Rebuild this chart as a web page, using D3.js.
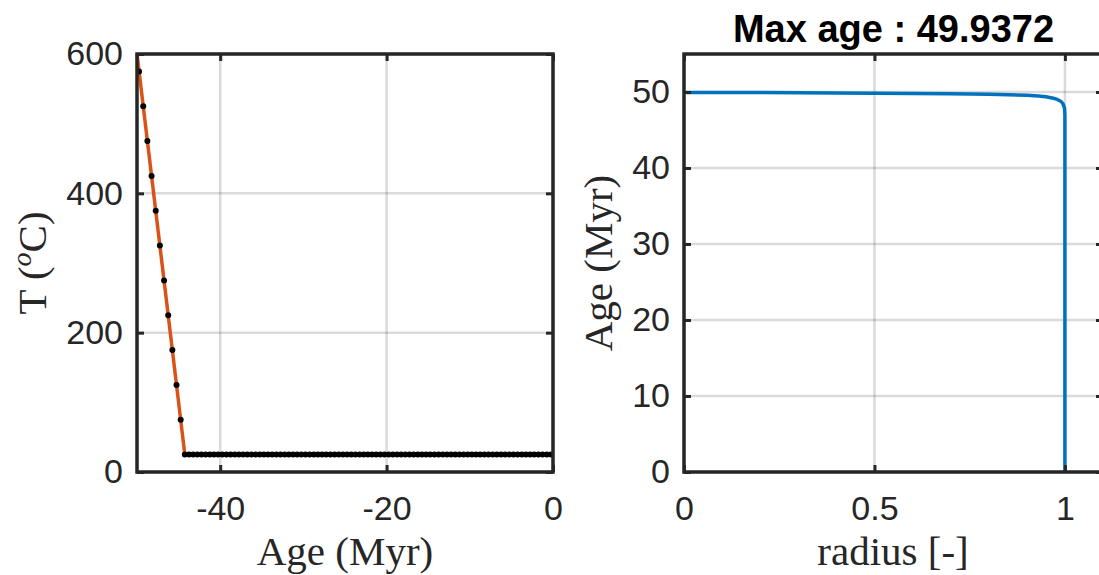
<!DOCTYPE html>
<html>
<head>
<meta charset="utf-8">
<script src="https://cdn.jsdelivr.net/npm/d3@7"></script>
<style>
  body { margin: 0; background: #fff; }
  .tick text { font-family: "Liberation Sans", Arial, sans-serif; font-size: 34px; fill: #262626; }
  .lbl { font-family: "Liberation Serif", serif; font-size: 41px; fill: #262626; }
  .ttl { font-family: "Liberation Sans", Arial, sans-serif; font-size: 38px; font-weight: bold; fill: #000; }
</style>
</head>
<body>
<svg id="fig" width="1099" height="575"></svg>
<script>
// thermal history samples (black dots)
var ageMyr = [-49.75, -49.25, -48.75, -48.25, -47.75, -47.25, -46.75, -46.25, -45.75, -45.25,
  -44.75, -44.25, -43.75, -43.25, -42.75, -42.25, -41.75, -41.25, -40.75, -40.25,
  -39.75, -39.25, -38.75, -38.25, -37.75, -37.25, -36.75, -36.25, -35.75, -35.25,
  -34.75, -34.25, -33.75, -33.25, -32.75, -32.25, -31.75, -31.25, -30.75, -30.25,
  -29.75, -29.25, -28.75, -28.25, -27.75, -27.25, -26.75, -26.25, -25.75, -25.25,
  -24.75, -24.25, -23.75, -23.25, -22.75, -22.25, -21.75, -21.25, -20.75, -20.25,
  -19.75, -19.25, -18.75, -18.25, -17.75, -17.25, -16.75, -16.25, -15.75, -15.25,
  -14.75, -14.25, -13.75, -13.25, -12.75, -12.25, -11.75, -11.25, -10.75, -10.25,
  -9.75, -9.25, -8.75, -8.25, -7.75, -7.25, -6.75, -6.25, -5.75, -5.25,
  -4.75, -4.25, -3.75, -3.25, -2.75, -2.25, -1.75, -1.25, -0.75, -0.25]
var tempC = [575, 525, 475, 425, 375, 325, 275, 225, 175, 125,
  75, 25, 25, 25, 25, 25, 25, 25, 25, 25,
  25, 25, 25, 25, 25, 25, 25, 25, 25, 25,
  25, 25, 25, 25, 25, 25, 25, 25, 25, 25,
  25, 25, 25, 25, 25, 25, 25, 25, 25, 25,
  25, 25, 25, 25, 25, 25, 25, 25, 25, 25,
  25, 25, 25, 25, 25, 25, 25, 25, 25, 25,
  25, 25, 25, 25, 25, 25, 25, 25, 25, 25,
  25, 25, 25, 25, 25, 25, 25, 25, 25, 25,
  25, 25, 25, 25, 25, 25, 25, 25, 25, 25]
// input path (red line)
var pathAge = [-50, -44.25]
var pathTemp = [600, 25]
// age profile along grain radius (blue line)
var radius = [0, 0.1, 0.2, 0.3, 0.4, 0.5, 0.6, 0.7, 0.8, 0.85, 0.9, 0.93, 0.95, 0.97, 0.98, 0.99, 0.995, 0.999, 1.0, 1.0]
var radiusAge = [49.94, 49.93, 49.92, 49.9, 49.88, 49.85, 49.81, 49.76, 49.69, 49.64, 49.56, 49.47, 49.37, 49.18, 49.02, 48.75, 48.45, 47.9, 47.0, 0]

var leftXTicks = [-40, -20, 0]
var leftYTicks = [0, 200, 400, 600]
var rightXTicks = [0, 0.5, 1]
var rightYTicks = [0, 10, 20, 30, 40, 50]
var maxAgeTitle = 'Max age : 49.9372'

var conf = {
  tick: 7,
  grid: '#262626',
  ink: '#262626',
  red: '#D95319',
  blue: '#0072BD'
}

var svg = d3.select('#fig')
var plain = d => String(d)   // MATLAB style "-40", not a unicode minus

function makeAxes(box, xDom, yDom, xt, yt) {
  var w = box.w, h = box.h
  var g = svg.append('g').attr('transform', 'translate(' + box.x + ',' + box.y + ')')
  var x = d3.scaleLinear().domain(xDom).range([0, w])
  var y = d3.scaleLinear().domain(yDom).range([h, 0])

  // grid first, under the data
  g.append('g').selectAll('line').data(xt).join('line')
    .attr('x1', d => x(d)).attr('x2', d => x(d))
    .attr('y1', 0).attr('y2', h)
    .attr('stroke', conf.grid).attr('stroke-opacity', 0.17).attr('stroke-width', 2.5)
  g.append('g').selectAll('line').data(yt).join('line')
    .attr('y1', d => y(d)).attr('y2', d => y(d))
    .attr('x1', 0).attr('x2', w)
    .attr('stroke', conf.grid).attr('stroke-opacity', 0.17).attr('stroke-width', 2.5)

  var data = g.append('g')

  var top = g.append('g')
  top.append('g').attr('transform', 'translate(0,' + h + ')')
    .call(d3.axisBottom(x).tickValues(xt).tickSize(-conf.tick).tickPadding(24).tickFormat(plain))
  top.append('g')
    .call(d3.axisTop(x).tickValues(xt).tickSize(-conf.tick).tickFormat(''))
  top.append('g')
    .call(d3.axisLeft(y).tickValues(yt).tickSize(-conf.tick).tickPadding(14).tickFormat(plain))
  top.append('g').attr('transform', 'translate(' + w + ',0)')
    .call(d3.axisRight(y).tickValues(yt).tickSize(-conf.tick).tickFormat(''))
  top.selectAll('.domain').remove()
  top.selectAll('.tick line').attr('stroke', conf.ink).attr('stroke-width', 3)
  top.selectAll('.tick text').attr('font-family', null).attr('font-size', null)
  top.append('rect')
    .attr('x', 0).attr('y', 0).attr('width', w).attr('height', h)
    .attr('fill', 'none').attr('stroke', conf.ink).attr('stroke-width', 3.5)

  return { g: g, data: data, x: x, y: y, w: w, h: h }
}

// left panel: T-t path
var L = makeAxes({ x: 137, y: 54, w: 416, h: 418 }, [-50, 0], [0, 600], leftXTicks, leftYTicks)
L.data.append('path')
  .datum(d3.range(pathAge.length))
  .attr('fill', 'none').attr('stroke', conf.red).attr('stroke-width', 3.5)
  .attr('d', d3.line().x(i => L.x(pathAge[i])).y(i => L.y(pathTemp[i])))
L.data.selectAll('circle').data(d3.range(ageMyr.length)).join('circle')
  .attr('cx', i => L.x(ageMyr[i]))
  .attr('cy', i => L.y(tempC[i]))
  .attr('r', 3)
  .attr('fill', '#000')

svg.append('text').attr('class', 'lbl')
  .attr('x', 137 + L.w / 2).attr('y', 565)
  .attr('text-anchor', 'middle')
  .text('Age (Myr)')
var yl = svg.append('text').attr('class', 'lbl')
  .attr('transform', 'translate(46,263) rotate(-90)')
  .attr('text-anchor', 'middle')
yl.append('tspan').text('T (')
yl.append('tspan').attr('font-style', 'italic').attr('font-size', '28px').attr('dy', -15).text('o')
yl.append('tspan').attr('dy', 15).text('C)')

// right panel: age vs radius
var R = makeAxes({ x: 684, y: 54, w: 419, h: 418 }, [0, 1.1], [0, 55], rightXTicks, rightYTicks)
R.data.append('path')
  .datum(d3.range(radius.length))
  .attr('fill', 'none').attr('stroke', conf.blue).attr('stroke-width', 3.5)
  .attr('stroke-linejoin', 'round')
  .attr('d', d3.line().x(i => R.x(radius[i])).y(i => R.y(radiusAge[i])))

svg.append('text').attr('class', 'lbl')
  .attr('x', 893).attr('y', 565)
  .attr('text-anchor', 'middle')
  .text('radius [-]')
svg.append('text').attr('class', 'lbl')
  .attr('transform', 'translate(612,263) rotate(-90)')
  .attr('text-anchor', 'middle')
  .text('Age (Myr)')
svg.append('text').attr('class', 'ttl')
  .attr('x', 893.5).attr('y', 42)
  .attr('text-anchor', 'middle')
  .text(maxAgeTitle)
</script>
</body>
</html>
